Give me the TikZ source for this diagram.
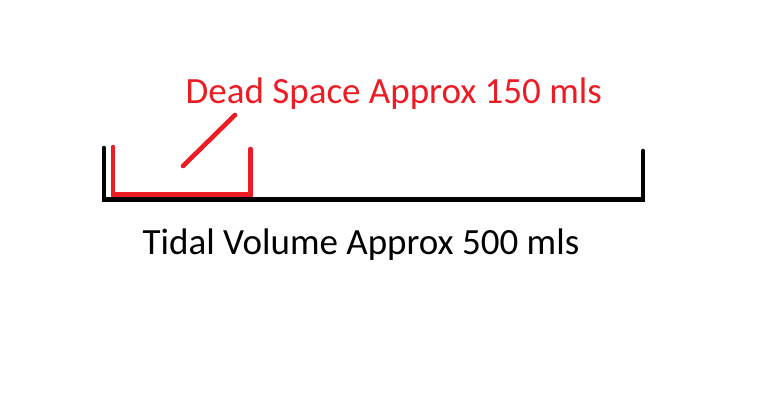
\documentclass[tikz,border=0pt]{standalone}
\usepackage{fontspec}
\setmainfont{Carlito}
\definecolor{paintred}{RGB}{237,28,36}
\tikzset{
  blackline/.style={draw=black, line width=4.6pt, line cap=round, line join=miter},
  redline/.style={draw=paintred, line width=4.6pt, line cap=round, line join=miter},
  lbl/.style={anchor=base west, inner sep=0pt, font=\fontsize{37}{40}\selectfont}
}
\begin{document}
\begin{tikzpicture}[x=1pt, y=-1pt]
\useasboundingbox (0,0) rectangle (774,418);
\fill[white] (0,0) rectangle (774,418);
% black bracket (tidal volume)
\coordinate (b1) at (104,148);
\coordinate (b2) at (104,199.5);
\coordinate (b3) at (643,199.5);
\coordinate (b4) at (643,151);
\draw[blackline] (b1) -- (b2) -- (b3) -- (b4);
% red bracket (dead space)
\coordinate (r1) at (113,147);
\coordinate (r2) at (113,194.5);
\coordinate (r3) at (250.5,194.5);
\coordinate (r4) at (250.5,149);
\draw[redline] (r1) -- (r2) -- (r3) -- (r4);
% labels
\node[lbl, text=paintred] (dead) at (185.5,103.5) {Dead Space Approx 150 mls};
\node[lbl, text=black] (tidal) at (142.5,254) {Tidal Volume Approx 500 mls};
% pointer
\coordinate (p1) at (183,166);
\coordinate (p2) at (235,115);
\draw[redline] (p1) -- (p2);
\end{tikzpicture}
\end{document}
